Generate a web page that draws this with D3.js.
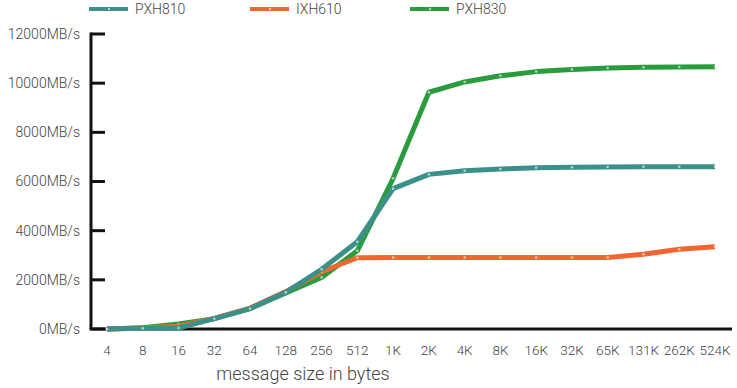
<!DOCTYPE html>
<html lang="en">
<head>
<meta charset="utf-8">
<title>message throughput</title>
<script src="https://d3js.org/d3.v7.min.js"></script>
<style>
body { margin: 0; background: #fff; }
svg text { font-family: Roboto, "Open Sans", sans-serif; font-weight: 300; fill: #444; }
</style>
</head>
<body>
<script>
var sizes = ["4","8","16","32","64","128","256","512","1K","2K","4K","8K","16K","32K","65K","131K","262K","524K"];
var pxh810 = [0, 30, 40, 420, 830, 1490, 2430, 3550, 5710, 6290, 6440, 6510, 6560, 6580, 6590, 6595, 6600, 6605];
var ixh610 = [0, 40, 110, 430, 850, 1520, 2330, 2900, 2910, 2910, 2910, 2910, 2910, 2910, 2910, 3040, 3240, 3350];
var pxh830 = [0, 50, 200, 420, 830, 1470, 2100, 3180, 6130, 9630, 10050, 10300, 10470, 10560, 10620, 10645, 10655, 10670];
var yTicks = [0, 2000, 4000, 6000, 8000, 10000, 12000];

var series = [
  {name: "PXH810", color: "#3b9189", values: pxh810, lx: 89},
  {name: "IXH610", color: "#f0662f", values: ixh610, lx: 250},
  {name: "PXH830", color: "#2a9b3e", values: pxh830, lx: 410}
];

var width = 737, height = 388;
var svg = d3.select("body").append("svg")
    .attr("width", width)
    .attr("height", height);

var x = d3.scalePoint().domain(sizes).range([107, 715]);
var y = d3.scaleLinear().domain([0, 12000]).range([329, 34]);

// y axis with inward ticks
var yAxis = svg.append("g").attr("transform", "translate(91,0)");
yAxis.append("line")
    .attr("x1", 0).attr("x2", 0)
    .attr("y1", y(12000) - 1.5).attr("y2", y(0))
    .attr("stroke", "#111").attr("stroke-width", 3);
yAxis.selectAll(".tick").data(yTicks).enter()
    .append("line")
    .attr("x1", 0).attr("x2", 14)
    .attr("y1", function(d) { return y(d); })
    .attr("y2", function(d) { return y(d); })
    .attr("stroke", "#111").attr("stroke-width", 3);
yAxis.selectAll(".lab").data(yTicks).enter()
    .append("text")
    .attr("x", -11)
    .attr("y", function(d) { return y(d); })
    .attr("dy", "0.35em")
    .attr("text-anchor", "end")
    .attr("font-size", 14)
    .text(function(d) { return d + "MB/s"; });

// x axis
svg.append("line")
    .attr("x1", 89.5).attr("x2", 732)
    .attr("y1", y(0)).attr("y2", y(0))
    .attr("stroke", "#111").attr("stroke-width", 3);
svg.selectAll(".xlab").data(sizes).enter()
    .append("text")
    .attr("x", function(d) { return x(d); })
    .attr("y", 355)
    .attr("text-anchor", "middle")
    .attr("font-size", 13.5)
    .text(function(d) { return d; });
svg.append("text")
    .attr("x", 303).attr("y", 380)
    .attr("text-anchor", "middle")
    .attr("font-size", 18)
    .text("message size in bytes");

var line = d3.line()
    .x(function(d, i) { return x(sizes[i]); })
    .y(function(d) { return y(d); });

// draw in order: green, orange, teal on top
var order = [series[2], series[1], series[0]];
order.forEach(function(s) {
  svg.append("path")
      .datum(s.values)
      .attr("fill", "none")
      .attr("stroke", s.color)
      .attr("stroke-width", 5)
      .attr("stroke-linejoin", "round")
      .attr("d", line);
  svg.selectAll(null).data(s.values).enter()
      .append("circle")
      .attr("cx", function(d, i) { return x(sizes[i]); })
      .attr("cy", function(d) { return y(d); })
      .attr("r", 1.3)
      .attr("fill", "#fff")
      .attr("opacity", 0.6);
});

// legend
series.forEach(function(s) {
  var g = svg.append("g");
  g.append("line")
      .attr("x1", s.lx).attr("x2", s.lx + 39)
      .attr("y1", 9).attr("y2", 9)
      .attr("stroke", s.color).attr("stroke-width", 4);
  g.append("circle")
      .attr("cx", s.lx + 20).attr("cy", 9).attr("r", 1.2)
      .attr("fill", "#fff").attr("opacity", 0.6);
  g.append("text")
      .attr("x", s.lx + 46).attr("y", 9)
      .attr("dy", "0.35em")
      .attr("font-size", 14)
      .text(s.name);
});
</script>
</body>
</html>
